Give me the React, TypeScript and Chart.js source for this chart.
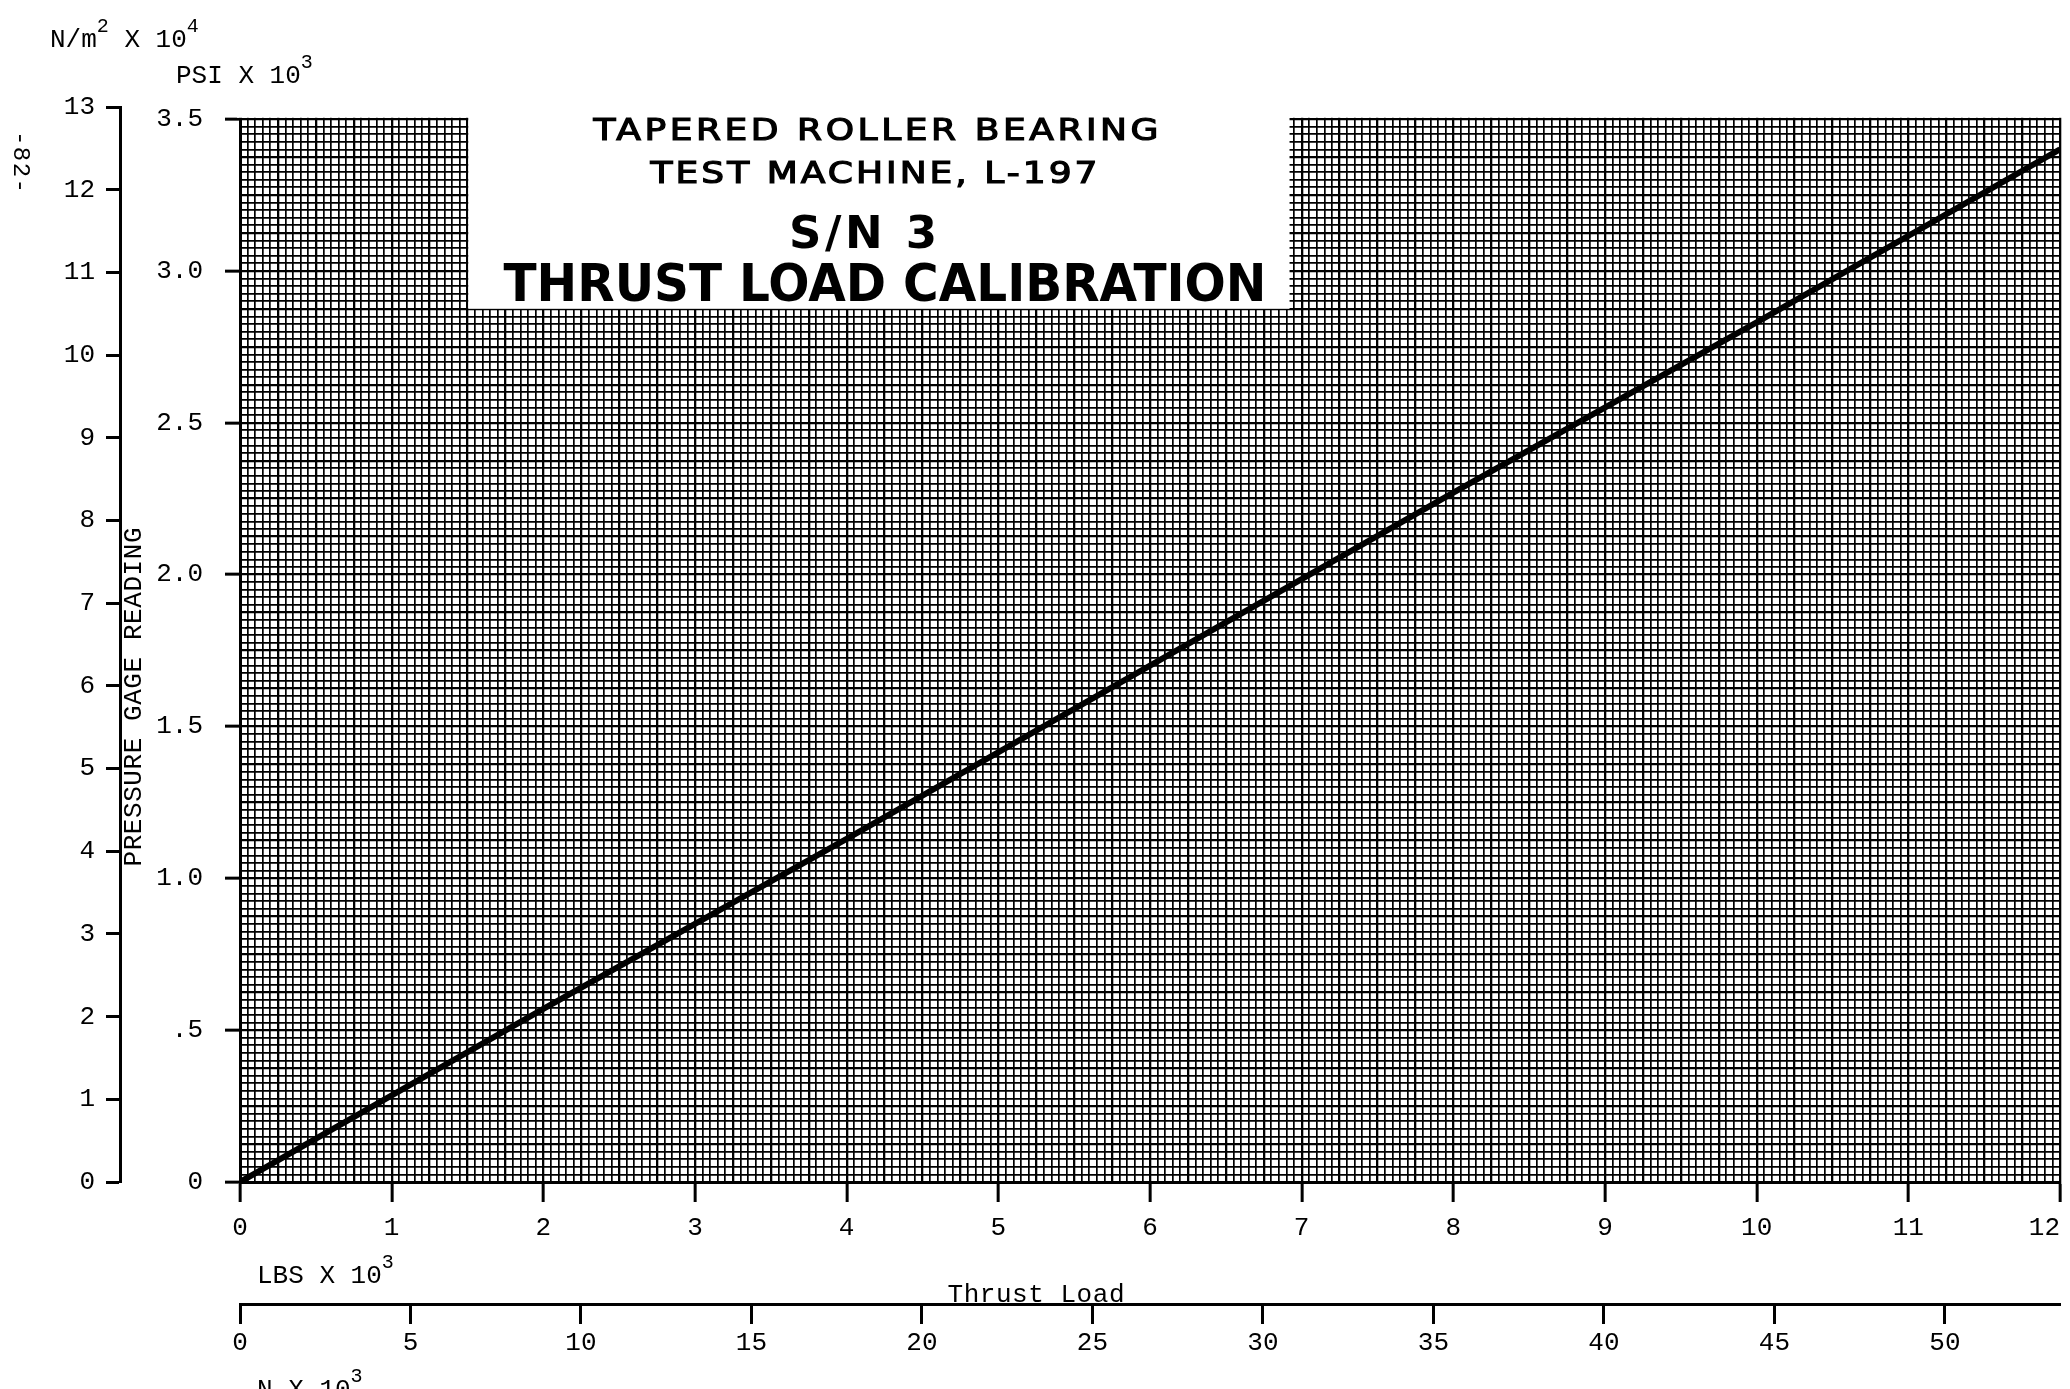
import React, { useEffect, useRef } from 'react';
import { Chart, registerables } from 'chart.js';

Chart.register(...registerables);

// ---------------- data ----------------
// Thrust load (LBS x 10^3) vs pressure gage reading (PSI x 10^3)
const thrustLoadKlbs = [0, 2, 4, 6, 8, 10, 12];
const gageReadingKpsi = [0, 0.57, 1.13, 1.7, 2.27, 2.83, 3.4];

// axis ticks / labels
const lbsTicks = [0, 1, 2, 3, 4, 5, 6, 7, 8, 9, 10, 11, 12];
const lbsTickLabels = ['0', '1', '2', '3', '4', '5', '6', '7', '8', '9', '10', '11', '12'];
const kNTicks = [0, 5, 10, 15, 20, 25, 30, 35, 40, 45, 50];
const kNTickLabels = ['0', '5', '10', '15', '20', '25', '30', '35', '40', '45', '50'];
const psiTicks = [0, 0.5, 1, 1.5, 2, 2.5, 3, 3.5];
const psiTickLabels = ['0', '.5', '1.0', '1.5', '2.0', '2.5', '3.0', '3.5'];
const nm2Ticks = [0, 1, 2, 3, 4, 5, 6, 7, 8, 9, 10, 11, 12, 13];
const nm2TickLabels = ['0', '1', '2', '3', '4', '5', '6', '7', '8', '9', '10', '11', '12', '13'];

const titleLines = ['TAPERED ROLLER BEARING', 'TEST MACHINE, L-197', 'S/N 3', 'THRUST LOAD CALIBRATION'];

// scale ranges
const LBS_MAX = 12;
const KN_MAX = 12 * 4.448;
const PSI_TOP = 3.5;
const PSI_MAX = 3.5395; // outer N/m^2 scale reaches a little higher than 3.5 psi
const NM2_MAX = 13;

// graph-paper rulings (data units)
const X_MINOR = 0.05;
const X_MEDIUM = 0.25;
const Y_MINOR = 0.025;
const Y_MEDIUM = 0.125;

// white label box cut into the graph paper (data units)
const BOX_X0 = 1.505;
const BOX_X1 = 6.92;
const BOX_Y0 = 2.875;

const MONO = 'Liberation Mono, Courier New, monospace';
const SANS = 'DejaVu Sans, Verdana, sans-serif';

const near = (v: number, step: number) => Math.abs(v / step - Math.round(v / step)) < 1e-6;
const labelFor = (ticks: number[], labels: string[]) => (v: number) => {
  const i = ticks.findIndex((t) => Math.abs(t - v) < 1e-6);
  return i >= 0 ? labels[i] : '';
};
const lbsLabel = labelFor(lbsTicks, lbsTickLabels);
const kNLabel = labelFor(kNTicks, kNTickLabels);
const psiLabel = labelFor(psiTicks, psiTickLabels);
const nm2Label = labelFor(nm2Ticks, nm2TickLabels);

const tickVal = (c: any) => (c && c.tick ? c.tick.value : 0);
const zeroPad = (s: any) => {
  s.paddingLeft = 0;
  s.paddingRight = 0;
  s.paddingTop = 0;
  s.paddingBottom = 0;
};

function fitText(
  ctx: CanvasRenderingContext2D,
  text: string,
  x: number,
  y: number,
  width: number,
  font: string,
  rotate = 0,
  hScale = 1,
  stroke = 0
) {
  ctx.save();
  ctx.font = font;
  (ctx as any).letterSpacing = '0px';
  ctx.textAlign = 'left';
  ctx.textBaseline = 'alphabetic';
  ctx.fillStyle = '#000';
  ctx.strokeStyle = '#000';
  const w = ctx.measureText(text).width;
  ctx.translate(x, y);
  if (rotate) ctx.rotate(rotate);
  // (x,y) is the centre of the baseline
  const inner = width / hScale;
  if ('letterSpacing' in ctx && inner > w && text.length > 1) {
    ctx.scale(hScale, 1);
    const ls = (inner - w) / (text.length - 1);
    (ctx as any).letterSpacing = ls + 'px';
    ctx.fillText(text, -inner / 2, 0);
    if (stroke) {
      ctx.lineWidth = stroke;
      ctx.strokeText(text, -inner / 2, 0);
    }
    (ctx as any).letterSpacing = '0px';
  } else {
    ctx.scale(width / w, 1);
    ctx.fillText(text, -w / 2, 0);
    if (stroke) {
      ctx.lineWidth = stroke;
      ctx.strokeText(text, -w / 2, 0);
    }
  }
  ctx.restore();
}

function supText(ctx: CanvasRenderingContext2D, parts: { t: string; sup?: boolean }[], x: number, y: number) {
  ctx.save();
  ctx.fillStyle = '#000';
  ctx.textAlign = 'left';
  ctx.textBaseline = 'alphabetic';
  let cx = x;
  for (const p of parts) {
    ctx.font = p.sup ? `20px ${MONO}` : `26px ${MONO}`;
    ctx.fillText(p.t, cx, p.sup ? y - 15 : y);
    cx += ctx.measureText(p.t).width;
  }
  ctx.restore();
}

const paperPlugin = {
  id: 'paper',
  beforeDatasetsDraw(chart: any) {
    const { ctx, chartArea, scales } = chart;
    const xs = scales.x;
    const ys = scales.y;
    ctx.save();
    ctx.fillStyle = '#fff';
    const yTop = ys.getPixelForValue(PSI_TOP);
    ctx.fillRect(chartArea.left - 3, chartArea.top - 4, chartArea.right - chartArea.left + 20, yTop - 1.2 - (chartArea.top - 4));
    const bx0 = xs.getPixelForValue(BOX_X0);
    const bx1 = xs.getPixelForValue(BOX_X1);
    const by1 = ys.getPixelForValue(BOX_Y0);
    ctx.fillRect(bx0, chartArea.top - 4, bx1 - bx0, by1 - (chartArea.top - 4));
    ctx.restore();
  },
  afterDraw(chart: any) {
    const ctx: CanvasRenderingContext2D = chart.ctx;
    // unit captions
    supText(ctx, [{ t: 'N/m' }, { t: '2', sup: true }, { t: ' X 10' }, { t: '4', sup: true }], 50, 47);
    supText(ctx, [{ t: 'PSI X 10' }, { t: '3', sup: true }], 176, 83);
    supText(ctx, [{ t: 'LBS X 10' }, { t: '3', sup: true }], 257, 1283);
    supText(ctx, [{ t: 'N X 10' }, { t: '3', sup: true }], 257, 1397);
    // axis titles
    fitText(ctx, 'Thrust Load', 1036, 1302, 177, `26px ${MONO}`);
    fitText(ctx, 'PRESSURE GAGE READING', 141, 697, 339, `26px ${MONO}`, -Math.PI / 2);
    fitText(ctx, '-82-', 14, 162, 62, `24px ${MONO}`, Math.PI / 2);
    // title block
    fitText(ctx, titleLines[0], 876, 140, 565, `30px ${SANS}`, 0, 1.2, 1.2);
    fitText(ctx, titleLines[1], 874, 183, 447, `30px ${SANS}`, 0, 1.2, 1.2);
    fitText(ctx, titleLines[2], 863, 248, 148, `bold 45px ${SANS}`);
    fitText(ctx, titleLines[3], 885, 301, 763, `bold 52px ${SANS}`);
  },
};

export default function App() {
  const ref = useRef<HTMLCanvasElement | null>(null);

  useEffect(() => {
    document.body.style.margin = '0';
    document.body.style.overflow = 'hidden';
    const canvas = ref.current;
    if (!canvas) return;

    const tickFont = { family: MONO, size: 26 };
    const points = thrustLoadKlbs.map((x, i) => ({ x, y: gageReadingKpsi[i] }));

    const chart = new Chart(canvas, {
      type: 'line',
      data: {
        datasets: [
          {
            data: points,
            xAxisID: 'x',
            yAxisID: 'y',
            borderColor: '#000',
            borderWidth: 6,
            pointRadius: 0,
            tension: 0,
            fill: false,
          },
        ],
      },
      plugins: [paperPlugin],
      options: {
        animation: false,
        responsive: false,
        devicePixelRatio: 1,
        events: [],
        layout: { padding: { top: 107, right: 10, bottom: 0, left: 0 } },
        plugins: { legend: { display: false }, tooltip: { enabled: false }, title: { display: false } },
        scales: {
          x: {
            type: 'linear',
            position: 'bottom',
            weight: 0,
            min: 0,
            max: LBS_MAX,
            afterFit: (s: any) => {
              s.height = 122;
              zeroPad(s);
            },
            border: { display: true, color: '#000', width: 3 },
            grid: {
              display: true,
              drawOnChartArea: true,
              drawTicks: true,
              tickLength: 20,
              color: '#000',
              lineWidth: (c: any) => (near(tickVal(c), X_MEDIUM) ? 2.3 : 1.7),
              tickColor: (c: any) => (lbsLabel(tickVal(c)) !== '' ? '#000' : 'rgba(0,0,0,0)'),
              tickWidth: 3,
            },
            ticks: {
              stepSize: X_MINOR,
              maxTicksLimit: 1000,
              autoSkip: false,
              includeBounds: false,
              maxRotation: 0,
              minRotation: 0,
              padding: 11,
              color: '#000',
              font: tickFont,
              callback: (v: any) => {
                const lab = lbsLabel(Number(v));
                // last label sits left of its tick, inside the page
                return Math.abs(Number(v) - LBS_MAX) < 1e-6 ? lab + '  ' : lab;
              },
            },
          },
          x2: {
            type: 'linear',
            position: 'bottom',
            weight: 10,
            min: 0,
            max: KN_MAX,
            afterFit: (s: any) => {
              s.height = 85;
              zeroPad(s);
            },
            border: { display: true, color: '#000', width: 3 },
            grid: { drawOnChartArea: false, drawTicks: true, tickLength: 20, tickColor: '#000', tickWidth: 3 },
            ticks: {
              stepSize: 5,
              autoSkip: false,
              includeBounds: false,
              maxRotation: 0,
              minRotation: 0,
              padding: 4,
              color: '#000',
              font: tickFont,
              callback: (v: any) => kNLabel(Number(v)),
            },
          },
          y: {
            type: 'linear',
            position: 'left',
            weight: 0,
            min: 0,
            max: PSI_MAX,
            afterFit: (s: any) => {
              s.width = 120;
              zeroPad(s);
            },
            border: { display: true, color: '#000', width: 3 },
            grid: {
              display: true,
              drawOnChartArea: true,
              drawTicks: true,
              tickLength: 15,
              color: (c: any) => (tickVal(c) > PSI_TOP + 1e-6 ? 'rgba(0,0,0,0)' : '#000'),
              lineWidth: (c: any) => (near(tickVal(c), Y_MEDIUM) ? 2.3 : 1.7),
              tickColor: (c: any) => (psiLabel(tickVal(c)) !== '' ? '#000' : 'rgba(0,0,0,0)'),
              tickWidth: 3,
            },
            ticks: {
              stepSize: Y_MINOR,
              maxTicksLimit: 1000,
              autoSkip: false,
              includeBounds: false,
              padding: 22,
              color: '#000',
              font: tickFont,
              callback: (v: any) => psiLabel(Number(v)),
            },
          },
          y2: {
            type: 'linear',
            position: 'left',
            weight: 10,
            min: 0,
            max: NM2_MAX,
            afterFit: (s: any) => {
              s.width = 120;
              zeroPad(s);
            },
            border: { display: true, color: '#000', width: 3 },
            grid: { drawOnChartArea: false, drawTicks: true, tickLength: 14, tickColor: '#000', tickWidth: 3 },
            ticks: {
              stepSize: 1,
              autoSkip: false,
              padding: 11,
              color: '#000',
              font: tickFont,
              callback: (v: any) => nm2Label(Number(v)),
            },
          },
        },
      } as any,
    });

    return () => chart.destroy();
  }, []);

  return (
    <canvas
      ref={ref}
      width={2070}
      height={1389}
      style={{ display: 'block', width: 2070, height: 1389 }}
    />
  );
}
